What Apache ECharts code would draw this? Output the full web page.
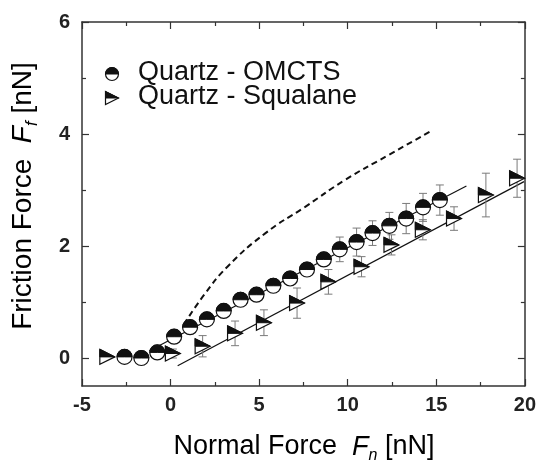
<!DOCTYPE html>
<html><head><meta charset="utf-8">
<script src="https://cdn.jsdelivr.net/npm/echarts@6/dist/echarts.min.js"></script>
<style>html,body{margin:0;padding:0;background:#fff}#c{width:539px;height:464px}</style>
</head><body><div id="c"></div>
<script>
// ---- data ----
const omctsX = [-2.6,-1.65,-0.75,0.2,1.1,2.05,3.0,3.95,4.85,5.8,6.75,7.7,8.65,9.55,10.5,11.4,12.35,13.3,14.25,15.2];
const omctsY = [0.02,0.0,0.1,0.38,0.55,0.69,0.84,1.04,1.13,1.29,1.42,1.58,1.76,1.94,2.07,2.23,2.36,2.49,2.69,2.82];
const omctsErr = [0,0,0,0,0,0,0,0,0,0,0,0,0.05,0.22,0.25,0.22,0.24,0.27,0.25,0.27];
const squalaneX = [-3.57,0.13,1.81,3.64,5.27,7.14,8.91,10.78,12.47,14.24,16.0,17.8,19.56];
const squalaneY = [0.02,0.08,0.21,0.44,0.63,0.98,1.36,1.63,2.02,2.29,2.49,2.91,3.21];
const squalaneErr = [0,0.08,0.19,0.22,0.23,0.27,0.22,0.18,0.18,0.18,0.21,0.39,0.34];
const omctsFitX = [-1.2, 16.7];
const omctsFitY = [0.13, 3.07];
const squalaneFitX = [0.4, 19.95];
const squalaneFitY = [-0.14, 3.15];
const theoryX = [0.75, 1.9, 3.21, 5.36, 7.6, 9.85, 12.28, 14.8];
const theoryY = [0.6, 1.13, 1.63, 2.23, 2.70, 3.18, 3.62, 4.07];
const yTicks = [0, 2, 4, 6];
const yMinorTicks = [1, 3, 5];
const legendNames = ['Quartz - OMCTS', 'Quartz - Squalane'];
const xTitle = ['Normal Force  ', 'F', 'n', ' [nN]'];
const yTitle = ['Friction Force  ', 'F', 'f', ' [nN]'];

const FONT = '"Liberation Sans", Arial, sans-serif';
const chart = echarts.init(document.getElementById('c'));

function zip(xs, ys){ return xs.map((x,i)=>[x, ys[i]]); }
function errData(xs, ys, es){
  const out = [];
  xs.forEach((x,i)=>{ if (es[i] > 0) out.push([x, ys[i]-es[i], ys[i]+es[i]]); });
  return out;
}
function renderErr(params, api){
  const x = api.value(0);
  const pLo = api.coord([x, api.value(1)]);
  const pHi = api.coord([x, api.value(2)]);
  const w = 4;
  const st = {stroke:'#7a7a7a', lineWidth:1, fill:null};
  return {type:'group', children:[
    {type:'line', shape:{x1:pLo[0],y1:pLo[1],x2:pHi[0],y2:pHi[1]}, style:st},
    {type:'line', shape:{x1:pLo[0]-w,y1:pLo[1],x2:pLo[0]+w,y2:pLo[1]}, style:st},
    {type:'line', shape:{x1:pHi[0]-w,y1:pHi[1],x2:pHi[0]+w,y2:pHi[1]}, style:st}
  ]};
}
function circleShape(cx, cy, r){
  return [
    {type:'circle', shape:{cx, cy, r}, style:{fill:'#fff', stroke:'#111', lineWidth:1.2}},
    {type:'sector', shape:{cx, cy, r, r0:0, startAngle:Math.PI, endAngle:2*Math.PI}, style:{fill:'#111', stroke:'#111', lineWidth:1}}
  ];
}
function triShape(cx, cy, s){
  return [
    {type:'polygon', shape:{points:[[cx-s,cy-s],[cx+s,cy],[cx-s,cy+s]]}, style:{fill:'#fff', stroke:'#111', lineWidth:1.2}},
    {type:'polygon', shape:{points:[[cx-s,cy-s],[cx+s,cy],[cx-s,cy]]}, style:{fill:'#111', stroke:'#111', lineWidth:1}}
  ];
}
function renderCircle(params, api){
  const p = api.coord([api.value(0), api.value(1)]);
  return {type:'group', children: circleShape(p[0], p[1], 7.5)};
}
function renderTri(params, api){
  const p = api.coord([api.value(0), api.value(1)]);
  return {type:'group', children: triShape(p[0], p[1], 7.5)};
}

const axisLineStyle = {color:'#333', width:1.5};
const tickLine = {color:'#333', width:1.2};
const labelStyle = {fontFamily:FONT, fontWeight:'bold', fontSize:20, color:'#222'};
const baseY = {type:'value', min:-0.5, max:6, splitLine:{show:false}};
const baseX = {type:'value', min:-5, max:20, interval:5, splitLine:{show:false}};

function makeRich(size){
  return {
    m:{fontFamily:FONT, fontSize:size, color:'#222', lineHeight:size+7, verticalAlign:'middle'},
    it:{fontFamily:FONT, fontSize:size, fontStyle:'italic', color:'#222', lineHeight:size+7, verticalAlign:'middle'},
    sub:{fontFamily:FONT, fontSize:Math.round(size*0.6), fontStyle:'italic', color:'#222', lineHeight:14, verticalAlign:'bottom'}
  };
}
function titleText(parts){ return '{m|'+parts[0]+'}{it|'+parts[1]+'}{sub|'+parts[2]+'}{m|'+parts[3]+'}'; }

const option = {
  animation:false,
  backgroundColor:'#fff',
  grid:{left:82, right:11, top:22, bottom:78},
  xAxis:[
    Object.assign({}, baseX, {position:'bottom',
      axisLine:{show:true, onZero:false, lineStyle:axisLineStyle},
      axisTick:{show:true, inside:true, length:7, lineStyle:tickLine},
      minorTick:{show:true, splitNumber:2, length:4, lineStyle:tickLine},
      axisLabel:Object.assign({margin:9}, labelStyle)}),
    Object.assign({}, baseX, {position:'top',
      axisLine:{show:true, onZero:false, lineStyle:axisLineStyle},
      axisTick:{show:true, inside:true, length:7, lineStyle:tickLine},
      minorTick:{show:true, splitNumber:2, length:4, lineStyle:tickLine},
      axisLabel:{show:false}})
  ],
  yAxis:[
    Object.assign({}, baseY, {position:'left',
      axisLine:{show:true, onZero:false, lineStyle:axisLineStyle},
      axisTick:{show:true, inside:true, length:7, customValues:yTicks, lineStyle:tickLine},
      axisLabel:Object.assign({margin:12, customValues:yTicks}, labelStyle)}),
    Object.assign({}, baseY, {position:'right',
      axisLine:{show:true, onZero:false, lineStyle:axisLineStyle},
      axisTick:{show:true, inside:true, length:7, customValues:yTicks, lineStyle:tickLine},
      axisLabel:{show:false}}),
    Object.assign({}, baseY, {position:'left',
      axisLine:{show:false, onZero:false},
      axisTick:{show:true, inside:true, length:4, customValues:yMinorTicks, lineStyle:tickLine},
      axisLabel:{show:false}}),
    Object.assign({}, baseY, {position:'right',
      axisLine:{show:false, onZero:false},
      axisTick:{show:true, inside:true, length:4, customValues:yMinorTicks, lineStyle:tickLine},
      axisLabel:{show:false}})
  ],
  series:[
    {type:'line', data:zip(theoryX, theoryY), smooth:true, symbol:'none', z:1,
      lineStyle:{color:'#111', width:2, type:[6,4]}},
    {type:'line', data:zip(omctsFitX, omctsFitY), symbol:'none', z:1,
      lineStyle:{color:'#111', width:1.2}},
    {type:'line', data:zip(squalaneFitX, squalaneFitY), symbol:'none', z:1,
      lineStyle:{color:'#111', width:1.2}},
    {type:'custom', name:'errO', data:errData(omctsX, omctsY, omctsErr), renderItem:renderErr, encode:{x:0, y:[1,2]}, z:2},
    {type:'custom', name:'errS', data:errData(squalaneX, squalaneY, squalaneErr), renderItem:renderErr, encode:{x:0, y:[1,2]}, z:2},
    {type:'custom', name:legendNames[0], data:zip(omctsX, omctsY), renderItem:renderCircle, encode:{x:0, y:1}, z:3},
    {type:'custom', name:legendNames[1], data:zip(squalaneX, squalaneY), renderItem:renderTri, encode:{x:0, y:1}, z:3}
  ],
  graphic:[
    {type:'group', children: circleShape(112, 74, 6.5)},
    {type:'group', children: triShape(112, 98, 6.5)},
    {type:'text', x:138, y:73, style:{text:legendNames[0], fontFamily:FONT, fontSize:27, fill:'#111', align:'left', verticalAlign:'middle'}},
    {type:'text', x:138, y:97, style:{text:legendNames[1], fontFamily:FONT, fontSize:27, fill:'#111', align:'left', verticalAlign:'middle'}},
    {type:'text', x:304, y:447, style:{text:titleText(xTitle), rich:makeRich(27), align:'center', verticalAlign:'middle'}},
    {type:'text', x:23, y:196, rotation:Math.PI/2, style:{text:titleText(yTitle), rich:makeRich(28), align:'center', verticalAlign:'middle'}}
  ]
};
chart.setOption(option);
</script>
</body></html>
